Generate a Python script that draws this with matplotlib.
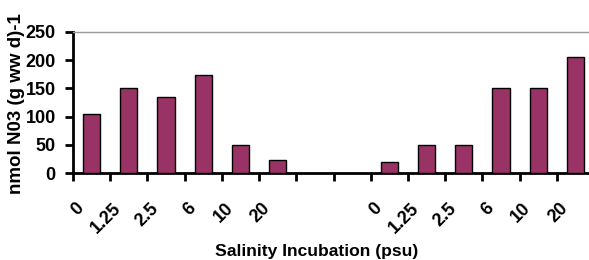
import matplotlib
matplotlib.use("Agg")
import matplotlib.pyplot as plt
import matplotlib.transforms as mtransforms

plt.rcParams['font.family'] = ['Liberation Sans', 'DejaVu Sans']
plt.rcParams['font.weight'] = 'bold'

# salinity categories (two incubation series, separated by a gap)
salinity = ['0', '1.25', '2.5', '6', '10', '20']
series_a = [105, 150, 134, 173, 50, 23]
series_b = [20, 50, 50, 150, 150, 205]
gap = 2

labels = salinity + [''] * gap + salinity
values = series_a + [None] * gap + series_b

W, H = 589, 260
fig = plt.figure(figsize=(W / 100, H / 100), dpi=100)
ax = fig.add_axes([73 / W, (H - 173) / H, 521 / W, 141 / H])

xs = list(range(len(values)))
for x, v in zip(xs, values):
    if v is not None:
        ax.bar(x, v, width=0.46, color='#993366', edgecolor='black', linewidth=1, zorder=3)

ax.set_xlim(-0.5, len(values) - 0.5)
ax.set_ylim(0, 250)
ax.set_yticks(range(0, 251, 50))
ax.tick_params(axis='y', direction='out', length=6, width=2, pad=6.5, labelsize=13)

# tick marks between categories, labels placed by hand (rotated like excel)
ax.set_xticks([k - 0.5 for k in range(len(values) + 1)])
ax.set_xticklabels([])
ax.tick_params(axis='x', direction='out', length=6, width=2)

offset = mtransforms.ScaledTranslation(-10 / 100, -33 / 100, fig.dpi_scale_trans)
for x, lab in zip(xs, labels):
    if lab:
        ax.text(x, 0, lab, transform=ax.get_xaxis_transform() + offset,
                rotation=45, rotation_mode='anchor', ha='right', va='center',
                fontsize=13, fontweight='bold')

for side in ['left', 'bottom']:
    ax.spines[side].set_linewidth(2)
ax.spines['right'].set_visible(False)
ax.spines['top'].set_color('#999999')
ax.spines['top'].set_linewidth(1)

fig.text(317 / W, (H - 256) / H, 'Salinity Incubation (psu)', ha='center', va='baseline',
         fontsize=12.6, fontweight='bold')
fig.text(17 / W, (H - 104) / H, 'nmol N03 (g ww d)-1', ha='center', va='center',
         rotation=90, fontsize=13.5, fontweight='bold')

fig.savefig('out.png', dpi=100)
